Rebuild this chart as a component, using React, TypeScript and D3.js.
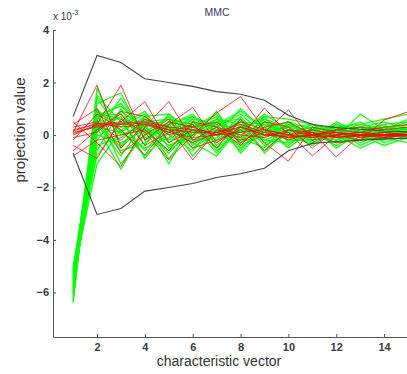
import * as d3 from 'd3';
import * as React from 'react';

// characteristic vector index (x)
const vectorIndex = [1, 2, 3, 4, 5, 6, 7, 8, 9, 10, 11, 12, 13, 14, 15];

// tick labels
const xTicks = [2, 4, 6, 8, 10, 12, 14];
const yTicks = [-6, -4, -2, 0, 2, 4];

// projection values (x 10^-3) for one class (green)
const greenSeries = [
  [-6.4, 1.8, -0.4, 0.6, 0.2, -0.3, 0.5, 0.1, 0.3, -0.1, 0.2, 0.0, 0.1, -0.1, 0.1],
  [-6.25, 1.2, 1.6, -0.2, 0.4, 0.7, 0.1, 0.5, -0.2, 0.2, -0.1, 0.3, 0.0, 0.2, 0.0],
  [-6.1, 0.9, 0.3, 0.8, -0.5, 0.2, 0.6, -0.1, 0.4, 0.1, 0.3, -0.2, 0.2, 0.0, 0.3],
  [-6.0, 0.6, 1.2, 0.1, 0.7, -0.4, 0.3, 0.8, 0.0, 0.4, 0.0, 0.2, -0.3, 0.1, -0.1],
  [-5.9, 0.4, -0.8, 0.5, 0.1, 0.6, -0.6, 0.2, 0.7, -0.3, 0.1, 0.4, 0.1, -0.2, 0.2],
  [-5.85, 0.2, 0.7, -0.9, 0.3, 0.0, 0.4, -0.5, 0.2, 0.5, -0.3, 0.1, 0.4, 0.2, 0.4],
  [-5.8, 1.0, 0.0, 0.4, -1.1, 0.5, -0.2, 0.6, -0.4, 0.0, 0.4, -0.1, -0.2, 0.3, 0.1],
  [-5.75, -0.2, 0.9, 0.3, 0.6, -0.8, 0.2, 0.0, 0.5, -0.2, 0.2, 0.0, 0.3, -0.3, 0.0],
  [-5.7, 0.8, -1.1, 0.0, 0.5, 0.3, 0.8, -0.3, 0.1, 0.3, -0.2, 0.3, -0.1, 0.1, 0.2],
  [-5.65, 0.5, 0.4, 0.9, -0.3, 0.4, -0.7, 0.4, -0.6, 0.2, 0.0, -0.3, 0.2, 0.4, -0.2],
  [-5.6, -0.6, 1.0, -0.4, 0.8, 0.1, 0.0, 1.0, 0.2, -0.4, 0.3, 0.1, 0.0, -0.1, 0.3],
  [-5.55, 0.3, 0.1, 0.7, 0.0, -0.6, 0.5, -0.2, 0.6, 0.1, -0.4, 0.2, 0.5, 0.0, 0.1],
  [-5.5, 1.5, 0.5, -0.6, 0.4, 0.8, -0.4, 0.3, -0.1, 0.4, 0.1, -0.4, 0.1, 0.2, 0.5],
  [-5.45, 0.0, -0.3, 0.2, -0.7, 0.3, 0.7, -0.7, 0.3, -0.5, 0.2, 0.3, -0.4, 0.0, 0.0],
  [-5.4, 0.7, 0.8, -0.1, 0.2, -0.2, -0.1, 0.7, -0.3, 0.0, -0.1, 0.0, 0.3, 0.5, 0.2],
  [-5.35, -1.1, 0.2, 0.6, -0.2, 0.5, 0.2, 0.1, 0.8, 0.2, 0.0, -0.2, 0.0, -0.4, -0.1],
  [-5.3, 0.45, -0.6, -0.3, 0.5, -0.1, 0.9, -0.4, 0.0, 0.3, 0.4, 0.1, -0.2, 0.1, 0.3],
  [-5.25, 0.85, 0.6, 0.4, -0.9, 0.2, -0.3, 0.5, 0.4, -0.2, -0.2, 0.4, 0.2, 0.3, 0.0],
  [-5.2, 0.1, 1.4, 0.0, 0.3, -0.5, 0.1, -0.1, -0.5, 0.5, 0.2, -0.1, 0.8, 0.2, 0.6],
  [-5.15, -0.4, -0.1, 0.5, 0.6, 0.4, -0.5, 0.2, 0.1, -0.1, -0.3, 0.2, -0.1, -0.2, 0.1],
  [-5.1, 0.65, 0.2, -0.8, 0.1, 0.7, 0.3, -0.6, 0.5, 0.1, 0.3, -0.5, 0.1, 0.0, 0.4],
  [-5.05, 0.3, -1.3, 0.3, -0.4, 0.0, 0.6, 0.4, -0.2, -0.3, 0.0, 0.3, 0.4, 0.6, 0.8],
  [-5.0, -0.8, 0.5, 0.1, 0.4, -0.3, -0.8, 0.3, 0.6, 0.3, 0.1, 0.0, -0.5, -0.1, -0.3],
  [-6.3, 1.4, 0.1, -0.5, -0.1, 0.6, 0.4, 0.9, 0.2, 0.0, -0.2, 0.5, 0.1, 0.3, 0.2],
  [-6.05, 0.55, -0.5, 0.7, 0.8, -0.2, 0.0, -0.3, 0.7, 0.6, 0.4, 0.2, 0.3, 0.1, 0.0],
  [-5.95, 0.75, 1.1, 0.2, -0.6, 0.1, 0.5, 0.6, -0.7, 0.2, -0.1, 0.1, 0.0, 0.4, 0.5],
];

// projection values (x 10^-3) for the other class (red)
const redSeries = [
  [0.1, 1.9, -0.5, 0.4, 0.2, -0.3, 0.1, 0.3, 0.0, -0.1, 0.0, 0.1, 0.0, -0.1, 0.0],
  [0.2, 0.4, 1.9, -0.2, 0.5, 0.3, 0.0, 0.1, 0.2, 0.0, 0.1, -0.1, 0.0, 0.1, 0.0],
  [0.0, 0.4, 0.5, 1.27, -0.3, 0.2, 0.1, -0.2, 0.1, 0.95, -0.2, 0.0, 0.1, 0.0, 0.0],
  [0.5, -0.3, -1.2, 0.3, 1.27, -0.2, 0.3, 0.0, -0.1, 0.2, 0.0, 0.1, -0.1, 0.0, 0.0],
  [-0.2, 0.8, 0.2, -0.76, 0.4, 1.05, -0.3, 0.3, 0.0, 0.1, -0.8, 0.0, 0.1, 0.0, 0.0],
  [-0.4, -0.9, 0.6, 0.1, -0.95, 0.0, 0.84, 1.46, 0.2, -0.2, 0.1, -0.84, 0.0, 0.1, 0.0],
  [0.3, 0.5, -0.2, 0.6, 0.3, -0.95, 0.2, -0.1, 1.03, 0.0, 0.2, 0.0, -0.2, 0.57, 0.88],
  [-0.6, 0.2, 0.8, -0.4, 0.1, 0.4, -0.5, 0.6, -0.3, -1.0, 0.3, 0.1, 0.0, 0.0, 0.1],
  [0.05, 0.35, 0.45, 0.5, 0.3, 0.2, 0.0, 0.5, 0.2, 0.0, -0.1, 0.0, 0.0, 0.0, 0.0],
  [0.1, 0.3, 0.4, 0.45, 0.2, 0.1, 0.1, 0.4, 0.1, -0.1, 0.0, -0.1, 0.0, 0.0, 0.0],
  [-0.8, -0.2, 0.0, 0.2, -0.6, 0.5, 0.3, -0.4, 0.5, 0.3, -0.5, 0.2, 0.3, 0.2, 0.3],
  [0.4, 1.0, -0.7, 0.0, 0.6, -0.5, -0.2, 0.2, -0.6, 0.2, 0.1, -0.3, -0.2, -0.1, 0.0],
  [-0.1, 0.1, 0.9, 0.7, 0.0, 0.3, 0.5, -0.3, 0.3, 0.5, 0.0, 0.2, 0.1, 0.3, 0.4],
  [0.15, 0.45, 0.3, 0.4, 0.1, -0.1, 0.0, 0.3, 0.0, -0.05, -0.05, -0.05, -0.05, -0.05, -0.05],
];

// envelope (black)
const upperBound = [0.7, 3.03, 2.76, 2.14, 2.0, 1.85, 1.65, 1.55, 1.32, 0.75, 0.4, 0.28, 0.22, 0.15, 0.12];
const lowerBound = [-0.7, -3.03, -2.8, -2.14, -2.0, -1.85, -1.62, -1.48, -1.27, -0.6, -0.32, -0.25, -0.2, -0.15, -0.12];

const App = () => {
  const ref = React.useRef<SVGSVGElement | null>(null);

  React.useEffect(() => {
    if (!ref.current) return;
    const svg = d3.select(ref.current);
    svg.selectAll('*').remove();

    const x = d3.scaleLinear().domain([0.16, 15]).range([53, 408]);
    const y = d3.scaleLinear().domain([-7.7, 4]).range([337, 30]);

    const line = d3
      .line<number>()
      .x((_, i) => x(vectorIndex[i]))
      .y((d) => y(d));

    const plot = svg.append('g');

    plot
      .selectAll('.green')
      .data(greenSeries)
      .enter()
      .append('path')
      .attr('class', 'green')
      .attr('d', (d) => line(d))
      .attr('fill', 'none')
      .attr('stroke', '#00ff00')
      .attr('stroke-width', 1.3)
      .attr('stroke-opacity', 0.9);

    plot
      .selectAll('.red')
      .data(redSeries)
      .enter()
      .append('path')
      .attr('class', 'red')
      .attr('d', (d) => line(d))
      .attr('fill', 'none')
      .attr('stroke', '#ff0000')
      .attr('stroke-width', 1)
      .attr('stroke-opacity', 0.75);

    plot
      .selectAll('.bound')
      .data([upperBound, lowerBound])
      .enter()
      .append('path')
      .attr('class', 'bound')
      .attr('d', (d) => line(d))
      .attr('fill', 'none')
      .attr('stroke', '#444')
      .attr('stroke-width', 1.1);

    const tickFont = (g) =>
      g
        .selectAll('text')
        .style('font-family', '"Liberation Sans", Arial, sans-serif')
        .style('font-size', '11px')
        .style('font-weight', 'bold')
        .style('fill', '#3a3a4a');

    const yAxisG = svg
      .append('g')
      .attr('transform', `translate(${53},0)`)
      .call(d3.axisLeft(y).tickValues(yTicks).tickSizeInner(-3).tickSizeOuter(0).tickPadding(4));
    tickFont(yAxisG);

    const xAxisG = svg
      .append('g')
      .attr('transform', `translate(0,${337})`)
      .call(d3.axisBottom(x).tickValues(xTicks).tickSizeInner(-3).tickSizeOuter(0).tickPadding(6));
    tickFont(xAxisG);

    svg.selectAll('.domain, .tick line').attr('stroke', '#555');

    svg
      .append('text')
      .attr('x', 217)
      .attr('y', 16)
      .attr('text-anchor', 'middle')
      .style('font-family', '"Liberation Sans", Arial, sans-serif')
      .style('font-size', '10.5px')
      .style('fill', '#3c3c55')
      .text('MMC');

    const exp = svg
      .append('text')
      .attr('x', 53)
      .attr('y', 20)
      .style('font-family', '"Liberation Sans", Arial, sans-serif')
      .style('font-size', '10px')
      .style('fill', '#3a3a4a');
    exp.append('tspan').text('x 10');
    exp.append('tspan').attr('dy', -5).style('font-size', '7px').text('-3');

    svg
      .append('text')
      .attr('transform', `translate(${25},${130}) rotate(-90)`)
      .attr('text-anchor', 'middle')
      .style('font-family', '"Liberation Sans", Arial, sans-serif')
      .style('font-size', '15px')
      .style('fill', '#333')
      .text('projection value');

    svg
      .append('text')
      .attr('x', 219)
      .attr('y', 366)
      .attr('text-anchor', 'middle')
      .style('font-family', '"Liberation Sans", Arial, sans-serif')
      .style('font-size', '14px')
      .style('fill', '#333')
      .text('characteristic vector');
  }, []);

  return (
    <svg
      ref={ref}
      width={407}
      height={374}
      style={{ position: 'absolute', left: 0, top: 0, background: '#fff' }}
    />
  );
};

export default App;
